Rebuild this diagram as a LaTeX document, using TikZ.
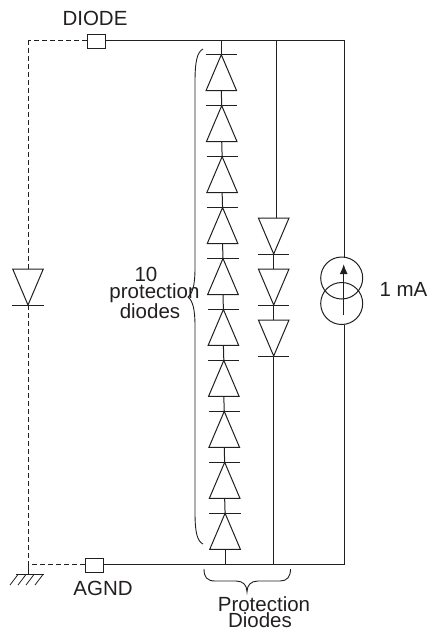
\documentclass[tikz,border=0pt]{standalone}
\usepackage{fontspec}
\setmainfont{Liberation Sans}
\usetikzlibrary{positioning, arrows.meta}
\definecolor{ink}{HTML}{231F20}
\tikzset{
pad/.style={
  draw=ink, 
  rectangle, 
  line width=1pt, 
  minimum height=14pt, 
  minimum width=18pt, inner sep=0pt
  }, 
label/.style={
  text=ink, 
  inner sep=0pt, 
  font=\fontsize{20.5}{20.5}\selectfont
  }, 
wire/.style={draw=ink, line width=1pt}, 
dashwire/.style={wire, dash pattern=on 5pt off 3pt}, 
line/.style={-{Latex[length=10pt,width=8pt]}, draw=ink, line width=1.3pt}, 
source/.style={draw=ink, line width=1pt, circle, minimum size=42pt, inner sep=0pt}, 
updiode/.pic={
  \draw[wire] (-15.3,36) -- (15.3,36) -- (0,0) -- cycle;
  \draw[wire] (-15.6,0) -- (15.6,0);
  }, 
downdiode/.pic={
  \draw[wire] (-15.3,0) -- (15.3,0) -- (0,36) -- cycle;
  \draw[wire] (-15.6,36) -- (15.6,36);
  }
}
\begin{document}
\begin{tikzpicture}[x=1pt, y=-1pt]
\useasboundingbox (0,0) rectangle (429,630);

% pads and rails
\node[pad] (diodepad) at (96,41) {};
\node[pad] (agndpad) at (94.5,565.5) {};
\coordinate (topcorner) at (28,40);
\coordinate (botcorner) at (28,564.5);
\coordinate (rightcorner) at (344,40);
\coordinate (rightbot) at (344,564.5);
\draw[wire] (diodepad.east |- topcorner) -- (rightcorner);
\draw[wire] (agndpad.east |- botcorner) -- (rightbot);
\draw[dashwire] (diodepad.west |- topcorner) -- (topcorner);
\draw[dashwire] (agndpad.west |- botcorner) -- (botcorner);

% external diode
\coordinate (extbar) at (28,269);
\coordinate (extapex) at (28,305);
\pic at (extbar) {downdiode};
\draw[dashwire] (topcorner) -- (extbar);
\draw[dashwire] (extapex) -- (botcorner);

% ground
\coordinate (gnd) at (28,574.5);
\draw[wire] (botcorner) -- (gnd);
\draw[wire] (16,574.5) -- (43.5,574.5);
\foreach \h in {18,26,34,43} {
  \draw[wire, line width=0.8pt] (\h,574.5) -- ++(-8,10.5);
}

% column of ten
\foreach \i in {0,...,9} {
  \pgfmathsetmacro\px{221.3+0.42*\i}
  \pgfmathsetmacro\py{54.7+50.95*\i}
  \coordinate (up\i) at (\px,\py);
  \coordinate (ub\i) at (\px,\py+36);
  \pic at (up\i) {updiode};
}
\foreach \i [count=\j from 1] in {0,...,8} {
  \draw[wire] (ub\i) -- (up\j);
}
\draw[wire] (up0 |- topcorner) -- (up0);
\draw[wire] (ub9) -- (ub9 |- botcorner);

% column of three
\coordinate (dn0) at (273.7,218);
\coordinate (dn1) at (273.7,269);
\coordinate (dn2) at (273.7,320);
\foreach \i in {0,1,2} {
  \pic at (dn\i) {downdiode};
}
\draw[wire] (276,40) -- (276,218);
\draw[wire] (273.7,254) -- (dn1);
\draw[wire] (273.7,305) -- (dn2);
\draw[wire] (273.7,356) -- (273.7,564.5);

% current source
\node[source] (srctop) at (341.7,278) {};
\node[source] (srcbot) at (341.7,303.5) {};
\coordinate (arrowtip) at (343.7,264);
\coordinate (arrowtail) at (343.7,315);
\draw[wire] (rightcorner) -- (rightcorner |- srctop.north);
\draw[wire] (rightcorner |- srcbot.south) -- (rightbot);
\draw[line] (arrowtail) -- (arrowtip);

% braces
\draw[wire, line width=0.9pt] (203,49) .. controls (197,52) and (195,62) .. (195,82) -- (195,268)
  .. controls (195,284) and (193,293) .. (188,297) .. controls (193,301) and (195,310) .. (195,326)
  -- (195,512) .. controls (195,532) and (197,541) .. (203,544);
\draw[wire, line width=0.9pt] (204,569) .. controls (204,577) and (207,581) .. (215,581) -- (236,581)
  .. controls (243,581) and (247,585) .. (247,592) .. controls (247,585) and (251,581) .. (258,581)
  -- (280,581) .. controls (287,581) and (290.5,577) .. (290.5,569);

% labels
\node[label] (diodelabel) at (95,18) {DIODE};
\node[label] (agndlabel) at (103,588.5) {AGND};
\node[label] (currentlabel) at (403.5,289) {1 mA};
\node[label] (countlabel) at (146,274) {10};
\node[label] (protlabel) at (154.5,293) {protection};
\node[label] (diodeslabel) at (150,311) {diodes};
\node[label] (grouplabel) at (264,604.5) {Protection};
\node[label] (groupnames) at (260,620.5) {Diodes};
\end{tikzpicture}
\end{document}
